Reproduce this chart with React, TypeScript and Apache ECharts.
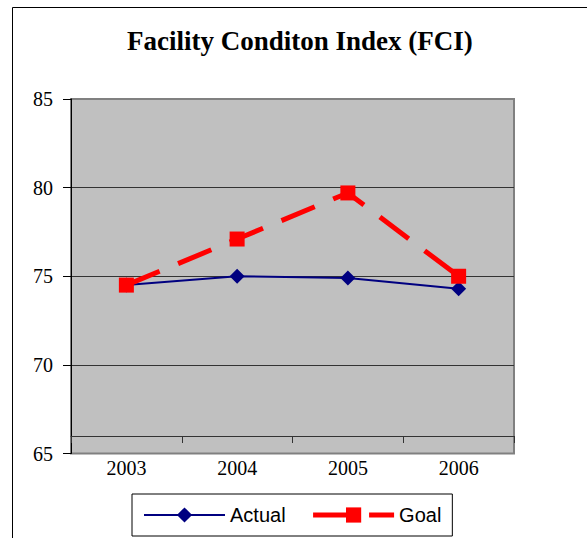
import React, { useEffect, useRef } from "react";
import * as echarts from "echarts";

const categories = ["2003", "2004", "2005", "2006"];
const actualValues = [74.5, 75.0, 74.9, 74.3];
const goalValues = [74.5, 77.1, 79.7, 75.0];
const titleText = "Facility Conditon Index (FCI)";
const yMin = 65;
const yMax = 85;
const yStep = 5;

export default function App() {
  const ref = useRef<HTMLDivElement>(null);
  useEffect(() => {
    if (!ref.current) return;
    const chart = echarts.init(ref.current, null, { renderer: "svg" });
    chart.setOption({
      animation: false,
      backgroundColor: "#ffffff",
      title: {
        text: titleText,
        left: 127,
        top: 27,
        padding: 0,
        textStyle: {
          fontFamily: "Liberation Serif",
          fontWeight: "bold",
          fontSize: 27,
          color: "#000",
        },
      },
      graphic: [
        {
          type: "rect",
          shape: { x: 12.5, y: 7.5, width: 800, height: 800 },
          style: { fill: "none", stroke: "#000", lineWidth: 1 },
          z: 0,
          silent: true,
        },
      ],
      grid: {
        left: 71,
        top: 99,
        width: 443,
        height: 354.5,
        show: true,
        backgroundColor: "#C0C0C0",
        borderColor: "#808080",
        borderWidth: 2,
      },
      legend: {
        left: 132,
        top: 494,
        padding: [11, 11, 11, 11],
        itemWidth: 81,
        itemHeight: 19,
        itemGap: 25,
        borderColor: "#000",
        borderWidth: 1,
        backgroundColor: "#fff",
        textStyle: {
          fontFamily: "Liberation Sans",
          fontSize: 20,
          color: "#000",
        },
        data: [
          { name: "Actual", lineStyle: { width: 2 } },
          { name: "Goal", lineStyle: { width: 5, type: [36, 20] } },
        ],
      },
      xAxis: {
        type: "category",
        data: categories,
        boundaryGap: true,
        offset: -17.5,
        axisLine: { show: true, lineStyle: { color: "#333", width: 1 } },
        axisTick: { show: true, length: 7, lineStyle: { color: "#333" } },
        axisLabel: {
          fontFamily: "Liberation Serif",
          fontSize: 20,
          color: "#000",
          margin: 22,
        },
        splitLine: { show: false },
      },
      yAxis: {
        type: "value",
        min: yMin,
        max: yMax,
        interval: yStep,
        axisLine: { show: true, lineStyle: { color: "#000", width: 1 } },
        axisTick: { show: true, length: 8, lineStyle: { color: "#000" } },
        axisLabel: {
          fontFamily: "Liberation Serif",
          fontSize: 20,
          color: "#000",
          margin: 18,
        },
        splitLine: {
          show: true,
          showMinLine: false,
          showMaxLine: false,
          lineStyle: { color: "#333", width: 1 },
        },
      },
      series: [
        {
          name: "Actual",
          type: "line",
          data: actualValues,
          symbol: "diamond",
          symbolSize: 15,
          lineStyle: { color: "#000080", width: 2 },
          itemStyle: { color: "#000080" },
        },
        {
          name: "Goal",
          type: "line",
          data: goalValues,
          symbol: "rect",
          symbolSize: 15,
          lineStyle: { color: "#FF0000", width: 5, type: [36, 20] },
          itemStyle: { color: "#FF0000" },
        },
      ],
    });
    return () => chart.dispose();
  }, []);
  return (
    <div
      ref={ref}
      style={{ position: "absolute", left: 0, top: 0, width: 587, height: 538 }}
    />
  );
}
